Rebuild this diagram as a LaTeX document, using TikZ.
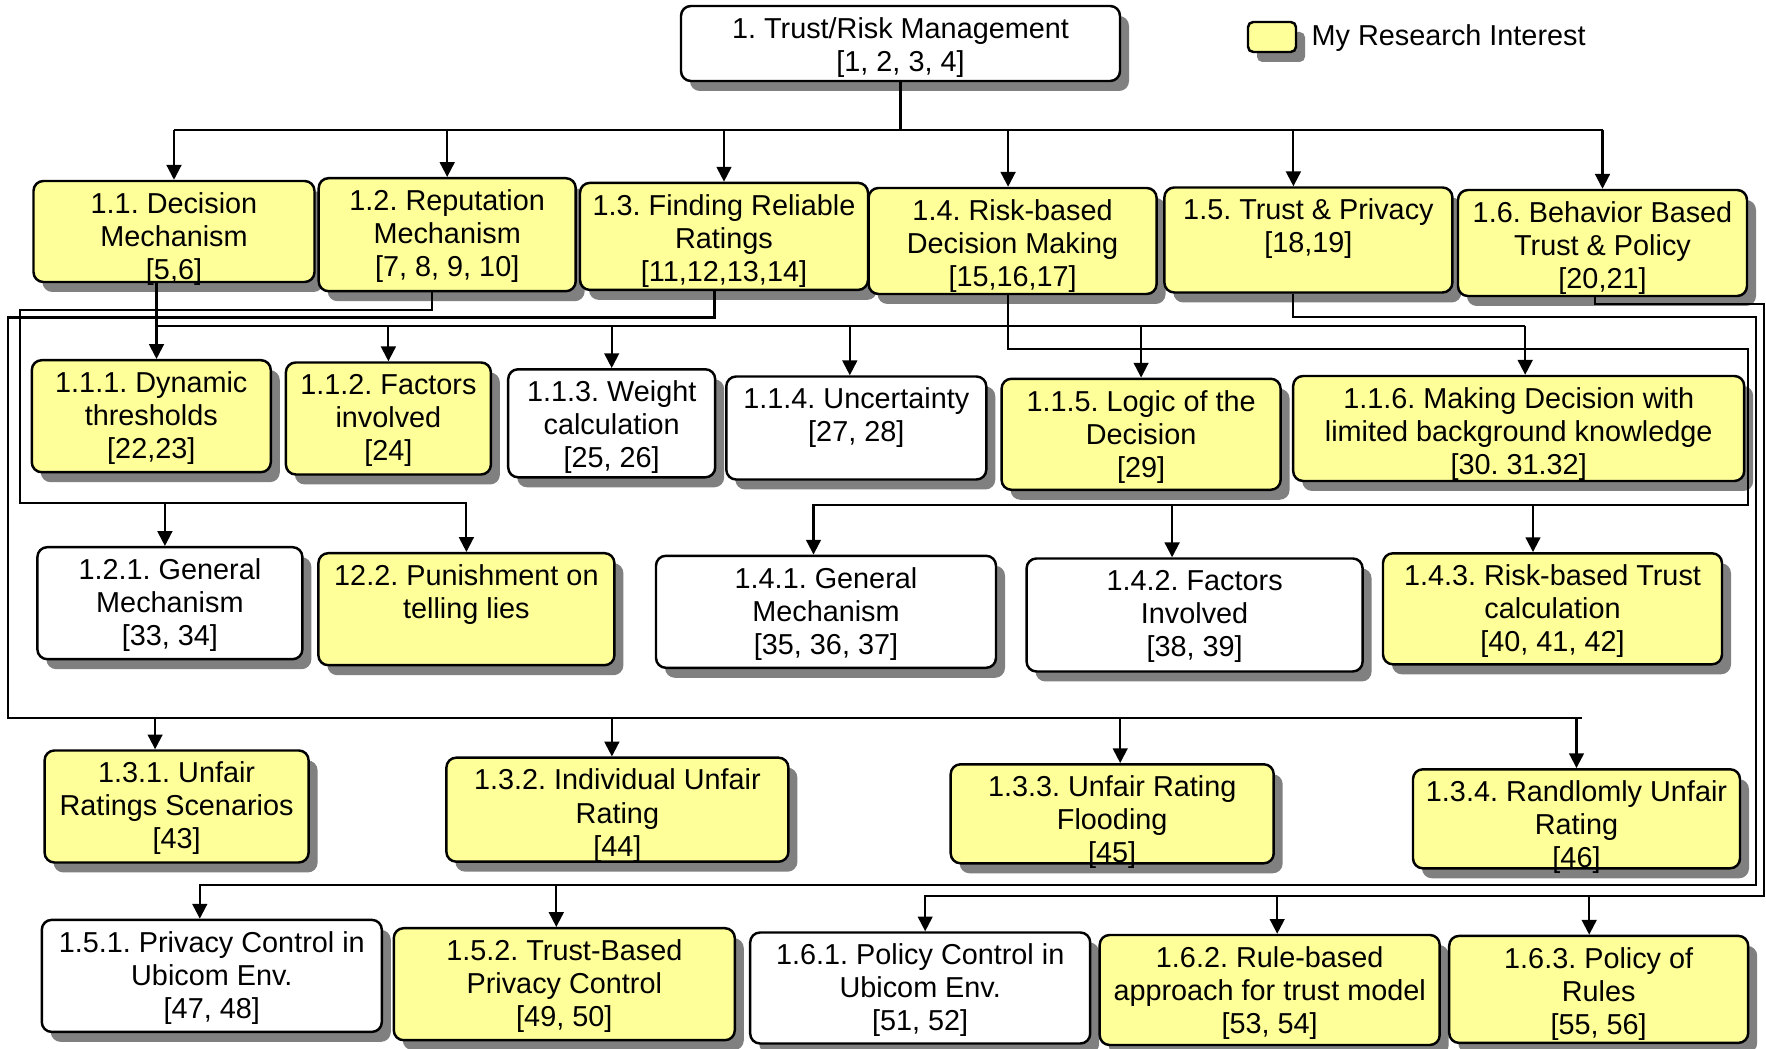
\documentclass[tikz,border=0pt]{standalone}
\usepackage{fontspec}
\setmainfont{Liberation Sans}
\usetikzlibrary{arrows.meta,shadows}
\definecolor{hilite}{HTML}{FFFF99}
\frenchspacing

\begin{document}
\begin{tikzpicture}[
  box/.style 2 args = {draw, line width = 0.7pt, rounded corners = 2.8pt, fill = white,
    minimum width = #1cm, minimum height = #2cm, inner sep = 0pt,
    drop shadow = {shadow xshift = 0.09cm, shadow yshift = -0.10cm, opacity = 1, fill = black!50}},
  mine/.style = {fill = hilite},
  lbl/.style = {anchor = north, align = center, inner sep = 3.4pt, font = \fontsize{8.2}{9.4}\selectfont},
  wire/.style = {line width = 0.6pt},
  arr/.style = {line width = 0.6pt, -{Triangle[length = 4.2pt, width = 4.2pt]}}
]
\useasboundingbox (0, 0) rectangle (17.66, -10.49);
%\draw[very thin, color = gray](0, 0) grid (17, -10);

% top and legend
\node [box = {4.39}{0.75}, label = {[lbl]north:{1. Trust/Risk Management\\{}[1, 2, 3, 4]}}] (root) at (9.005, -0.435) {};
\node [box = {0.48}{0.30}, mine, rounded corners = 1.5pt] (key) at (12.72, -0.37) {};
\node [lbl, anchor = west, inner sep = 0pt] (keytext) at (13.11, -0.38) {My Research Interest};

% first level
\node [box = {2.81}{1.01}, mine, label = {[lbl]north:{1.1. Decision\\Mechanism\\{}[5,6]}}] (d11) at (1.74, -2.315) {};
\node [box = {2.57}{1.13}, mine, label = {[lbl]north:{1.2. Reputation\\Mechanism\\{}[7, 8, 9, 10]}}] (d12) at (4.472, -2.347) {};
\node [box = {2.88}{1.07}, mine, label = {[lbl]north:{1.3. Finding Reliable\\Ratings\\{}[11,12,13,14]}}] (d13) at (7.24, -2.364) {};
\node [box = {2.88}{1.06}, mine, label = {[lbl]north:{1.4. Risk-based\\Decision Making\\{}[15,16,17]}}] (d14) at (10.126, -2.41) {};
\node [box = {2.88}{1.05}, mine, label = {[lbl]north:{1.5. Trust \& Privacy\\{}[18,19]}}] (d15) at (13.084, -2.40) {};
\node [box = {2.89}{1.06}, mine, label = {[lbl]north:{1.6. Behavior Based\\Trust \& Policy\\{}[20,21]}}] (d16) at (16.025, -2.43) {};

% children of 1.1
\node [box = {2.39}{1.12}, mine, label = {[lbl]north:{1.1.1. Dynamic\\thresholds\\{}[22,23]}}] (d111) at (1.513, -4.162) {};
\node [box = {2.05}{1.12}, mine, label = {[lbl]north:{1.1.2. Factors\\involved\\{}[24]}}] (d112) at (3.884, -4.185) {};
\node [box = {2.07}{1.08}, label = {[lbl]north:{1.1.3. Weight\\calculation\\{}[25, 26]}}] (d113) at (6.117, -4.233) {};
\node [box = {2.60}{1.03}, label = {[lbl]north:{1.1.4. Uncertainty\\{}[27, 28]}}] (d114) at (8.563, -4.28) {};
\node [box = {2.79}{1.11}, mine, label = {[lbl]north:{1.1.5. Logic of the\\Decision\\{}[29]}}] (d115) at (11.411, -4.343) {};
\node [box = {4.51}{1.05}, mine, label = {[lbl]north:{1.1.6. Making Decision with\\limited background knowledge\\{}[30. 31.32]}}] (d116) at (15.187, -4.285) {};

% children of 1.2 and 1.4
\node [box = {2.65}{1.12}, label = {[lbl]north:{1.2.1. General\\Mechanism\\{}[33, 34]}}] (d121) at (1.699, -6.032) {};
\node [box = {2.96}{1.12}, mine, label = {[lbl]north:{12.2. Punishment on\\telling lies}}] (d122) at (4.664, -6.092) {};
\node [box = {3.40}{1.12}, label = {[lbl]north:{1.4.1. General\\Mechanism\\{}[35, 36, 37]}}] (d141) at (8.26, -6.118) {};
\node [box = {3.36}{1.13}, label = {[lbl]north:{1.4.2. Factors\\Involved\\{}[38, 39]}}] (d142) at (11.946, -6.15) {};
\node [box = {3.39}{1.11}, mine, label = {[lbl]north:{1.4.3. Risk-based Trust\\calculation\\{}[40, 41, 42]}}] (d143) at (15.525, -6.088) {};

% children of 1.3
\node [box = {2.64}{1.12}, mine, label = {[lbl]north:{1.3.1. Unfair\\Ratings Scenarios\\{}[43]}}] (d131) at (1.766, -8.065) {};
\node [box = {3.42}{1.04}, mine, label = {[lbl]north:{1.3.2. Individual Unfair\\Rating\\{}[44]}}] (d132) at (6.174, -8.097) {};
\node [box = {3.23}{0.99}, mine, label = {[lbl]north:{1.3.3. Unfair Rating\\Flooding\\{}[45]}}] (d133) at (11.122, -8.138) {};
\node [box = {3.27}{0.99}, mine, label = {[lbl]north:{1.3.4. Randlomly Unfair\\Rating\\{}[46]}}] (d134) at (15.765, -8.188) {};

% children of 1.5 and 1.6
\node [box = {3.40}{1.12}, label = {[lbl]north:{1.5.1. Privacy Control in\\Ubicom Env.\\{}[47, 48]}}] (d151) at (2.118, -9.759) {};
\node [box = {3.41}{1.12}, mine, label = {[lbl]north:{1.5.2. Trust-Based\\Privacy Control\\{}[49, 50]}}] (d152) at (5.643, -9.842) {};
\node [box = {3.40}{1.11}, label = {[lbl]north:{1.6.1. Policy Control in\\Ubicom Env.\\{}[51, 52]}}] (d161) at (9.202, -9.88) {};
\node [box = {3.40}{1.10}, mine, label = {[lbl]north:{1.6.2. Rule-based\\approach for trust model\\{}[53, 54]}}] (d162) at (12.697, -9.90) {};
\node [box = {2.99}{1.07}, mine, label = {[lbl]north:{1.6.3. Policy of\\Rules\\{}[55, 56]}}] (d163) at (15.987, -9.894) {};

% root to first level
\coordinate (bus0) at (0, -1.30);
\draw [wire] (root.south) -- (root.south |- bus0);
\draw [wire] (d11.north |- bus0) -- (d16.north |- bus0);
\draw [arr] (d11.north |- bus0) -- (d11.north);
\draw [arr] (d12.north |- bus0) -- (d12.north);
\draw [arr] (d13.north |- bus0) -- (d13.north);
\draw [arr] ([xshift = -0.045cm]d14.north |- bus0) -- ([xshift = -0.045cm]d14.north);
\draw [arr] ([xshift = -0.15cm]d15.north |- bus0) -- ([xshift = -0.15cm]d15.north);
\draw [arr] (d16.north |- bus0) -- (d16.north);

% 1.1
\coordinate (bus11) at (0, -3.26);
\draw [arr] ([xshift = -0.175cm]d11.south) -- ([xshift = -0.175cm]d11.south |- d111.north);
\draw [wire] ([xshift = -0.175cm]d11.south |- bus11) -- ([xshift = 0.065cm]d116.north |- bus11);
\draw [arr] (d112.north |- bus11) -- (d112.north);
\draw [arr] (d113.north |- bus11) -- (d113.north);
\draw [arr] ([xshift = -0.065cm]d114.north |- bus11) -- ([xshift = -0.065cm]d114.north);
\draw [arr] (d115.north |- bus11) -- (d115.north);
\draw [arr] ([xshift = 0.065cm]d116.north |- bus11) -- ([xshift = 0.065cm]d116.north);

% 1.2
\coordinate (c12a) at (0.20, -3.10);
\coordinate (c12b) at (0.20, -5.03);
\draw [arr] ([xshift = -0.15cm]d12.south) |- (c12a) -- (c12b) -| (d122.north);
\draw [arr] ([xshift = -0.05cm]d121.north |- c12b) -- ([xshift = -0.05cm]d121.north);

% 1.3
\coordinate (c13a) at (0.08, -3.175);
\coordinate (c13b) at (0.08, -7.18);
\coordinate (c13c) at (15.82, -7.18);
\draw [wire] ([xshift = -0.095cm]d13.south) |- (c13a) -- (c13b) -- (c13c);
\draw [arr] ([xshift = -0.215cm]d131.north |- c13b) -- ([xshift = -0.215cm]d131.north);
\draw [arr] ([xshift = -0.055cm]d132.north |- c13b) -- ([xshift = -0.055cm]d132.north);
\draw [arr] ([xshift = 0.08cm]d133.north |- c13b) -- ([xshift = 0.08cm]d133.north);
\draw [arr] (d134.north |- c13b) -- (d134.north);

% 1.4
\coordinate (c14a) at (17.48, -3.49);
\coordinate (c14b) at (17.48, -5.05);
\draw [arr] ([xshift = -0.045cm]d14.south) |- (c14a) -- (c14b) -| ([xshift = -0.125cm]d141.north);
\draw [arr] ([xshift = -0.225cm]d142.north |- c14b) -- ([xshift = -0.225cm]d142.north);
\draw [arr] ([xshift = -0.195cm]d143.north |- c14b) -- ([xshift = -0.195cm]d143.north);

% 1.5
\coordinate (c15a) at (17.56, -3.17);
\coordinate (c15b) at (17.56, -8.85);
\draw [arr] ([xshift = -0.15cm]d15.south) |- (c15a) -- (c15b) -| ([xshift = -0.12cm]d151.north);
\draw [arr] ([xshift = -0.08cm]d152.north |- c15b) -- ([xshift = -0.08cm]d152.north);

% 1.6
\coordinate (c16a) at (17.64, -3.04);
\coordinate (c16b) at (17.64, -8.96);
\draw [arr] ([xshift = -0.075cm]d16.south) |- (c16a) -- (c16b) -| ([xshift = 0.05cm]d161.north);
\draw [arr] ([xshift = 0.075cm]d162.north |- c16b) -- ([xshift = 0.075cm]d162.north);
\draw [arr] ([xshift = -0.095cm]d163.north |- c16b) -- ([xshift = -0.095cm]d163.north);
\end{tikzpicture}
\end{document}
